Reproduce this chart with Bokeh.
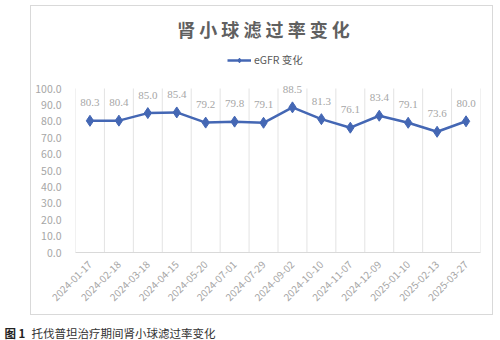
import math
from bokeh.plotting import figure
from bokeh.layouts import column
from bokeh.models import (Range1d, FixedTicker, ColumnDataSource, LabelSet, Label,
                          Legend, LegendItem)
from bokeh.embed import file_html
from bokeh.resources import INLINE

dates = ["2024-01-17", "2024-02-18", "2024-03-18", "2024-04-15", "2024-05-20",
         "2024-07-01", "2024-07-29", "2024-09-02", "2024-10-10", "2024-11-07",
         "2024-12-09", "2025-01-10", "2025-02-13", "2025-03-27"]
egfr = [80.3, 80.4, 85.0, 85.4, 79.2, 79.8, 79.1, 88.5, 81.3, 76.1, 83.4, 79.1, 73.6, 80.0]
y_ticks = [0, 10, 20, 30, 40, 50, 60, 70, 80, 90, 100]
y_max = 100
title_text = "肾小球滤过率变化"
series_name = "eGFR 变化"
caption_bold = "图 1"
caption_text = "托伐普坦治疗期间肾小球滤过率变化"

FONT = "Noto Sans CJK SC"
GRAY = "#a6a6a6"
LINE = "#4467b4"

n = len(dates)
xs = [i + 0.5 for i in range(n)]
src = ColumnDataSource(dict(x=xs, y=egfr, lab=[f"{v:.1f}" for v in egfr]))
grid_x = list(range(n + 1))
grid_src = ColumnDataSource(dict(x=grid_x, y0=[0] * len(grid_x), y1=[y_max] * len(grid_x)))

# chart figure: frame reaches the top of the chart box so title/legend/labels are not clipped
p = figure(width=463, height=310, output_backend="svg", toolbar_location=None,
           x_range=Range1d(0, n), y_range=Range1d(0, 150),
           min_border_left=44, min_border_right=14, min_border_top=0, min_border_bottom=64)
p.outline_line_color = None
p.background_fill_color = "white"
p.border_fill_color = "white"
p.margin = (5, 0, 0, 30)
p.styles = {"border": "1px solid #d9d9d9", "box-sizing": "border-box"}

p.xaxis.ticker = FixedTicker(ticks=xs)
p.xaxis.major_label_overrides = {x: d for x, d in zip(xs, dates)}
p.xaxis.major_label_orientation = math.pi / 4
p.xaxis.major_label_text_font = FONT
p.xaxis.major_label_text_font_size = "10px"
p.xaxis.major_label_text_color = GRAY
p.xaxis.axis_line_color = "#d9d9d9"
p.xaxis.major_tick_line_color = None
p.xaxis.minor_tick_line_color = None
p.xaxis.major_label_standoff = 4

p.yaxis.ticker = FixedTicker(ticks=y_ticks)
p.yaxis.major_label_overrides = {t: f"{t:.1f}" for t in y_ticks}
p.yaxis.major_label_text_font = FONT
p.yaxis.major_label_text_font_size = "10.5px"
p.yaxis.major_label_text_color = GRAY
p.yaxis.axis_line_color = None
p.yaxis.major_tick_line_color = None
p.yaxis.minor_tick_line_color = None
p.yaxis.major_label_standoff = 8

p.xgrid.grid_line_color = None
p.ygrid.grid_line_color = None
p.segment(x0="x", y0="y0", x1="x", y1="y1", source=grid_src, line_color="#e3e3e3", line_width=1)

r_line = p.line("x", "y", source=src, line_color=LINE, line_width=2.5)
r_pts = p.scatter("x", "y", source=src, marker="diamond", size=11,
                  fill_color=LINE, line_color=LINE)

p.add_layout(LabelSet(x="x", y="y", text="lab", source=src, y_offset=18,
                      text_align="center", text_baseline="middle",
                      text_font=FONT, text_font_size="11px", text_color=GRAY))

# title (screen units are measured from the frame's bottom-left corner)
p.add_layout(Label(x=188, y=224, x_units="screen", y_units="screen",
                   text=" ".join(title_text), text_align="center", text_baseline="middle",
                   text_font=FONT, text_font_size="18px", text_font_style="bold",
                   text_color="#606060"))

legend = Legend(items=[LegendItem(label=series_name, renderers=[r_line, r_pts])],
                location=(152, 185), orientation="horizontal",
                label_text_font=FONT, label_text_font_size="10.5px",
                label_text_color="#595959", border_line_color=None,
                background_fill_alpha=0, glyph_width=24, glyph_height=12,
                label_height=12, label_standoff=3, padding=0, margin=0, spacing=0)
p.add_layout(legend)

# caption figure (shifted left visually to undo the frame alignment of the column)
cap = figure(width=500, height=25, output_backend="svg", toolbar_location=None,
             x_range=Range1d(0, 1), y_range=Range1d(0, 1),
             x_axis_type=None, y_axis_type=None,
             min_border_left=0, min_border_right=0, min_border_top=0, min_border_bottom=0)
cap.outline_line_color = None
cap.grid.grid_line_color = None
cap.styles = {"transform": "translateX(-45px)"}
cap.add_layout(Label(x=5, y=8, x_units="screen", y_units="screen",
                     text=caption_bold, text_baseline="middle",
                     text_font=FONT, text_font_size="11.5px", text_font_style="bold",
                     text_color="#222222"))
cap.add_layout(Label(x=32, y=8, x_units="screen", y_units="screen",
                     text=caption_text, text_baseline="middle",
                     text_font=FONT, text_font_size="11.5px",
                     text_color="#333333"))

layout = column(p, cap, spacing=0)
open("out.html", "w").write(file_html(layout, INLINE))
